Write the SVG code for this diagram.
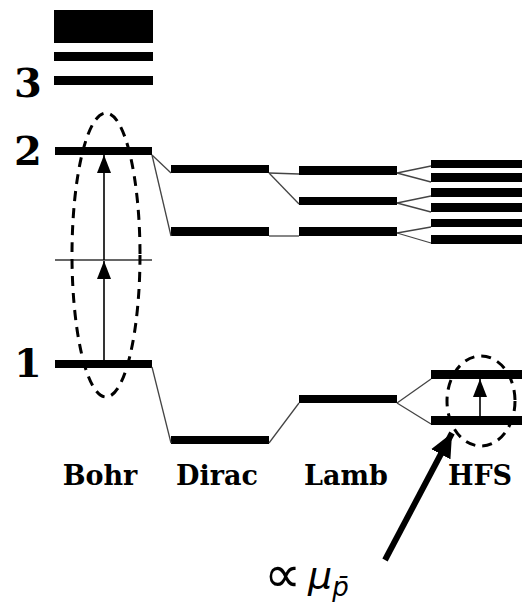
<svg xmlns="http://www.w3.org/2000/svg" width="522" height="605" viewBox="0 0 522 605">
  <style>
    .lvl { fill: #000; }
    .conn { stroke: #444; stroke-width: 1.3; fill: none; }
    .trans { stroke: #000; stroke-width: 1.6; fill: none; }
    .ring { stroke: #000; stroke-width: 3; stroke-dasharray: 10 7; fill: none; }
    .num { font-family: "DejaVu Serif", serif; font-weight: bold; font-size: 40px; fill: #000; }
    .col { font-family: "DejaVu Serif", serif; font-weight: bold; font-size: 27px; fill: #000; text-anchor: middle; }
    .math { font-family: "DejaVu Sans", "Liberation Sans", sans-serif; fill: #000; }
  </style>
  <defs>
    <marker id="head" markerUnits="userSpaceOnUse" markerWidth="18" markerHeight="14" refX="18" refY="7" orient="auto" viewBox="0 0 18 14">
      <path d="M0,0 L18,7 L0,14 Z" fill="#000"/>
    </marker>
    <marker id="bighead" markerUnits="userSpaceOnUse" markerWidth="24" markerHeight="22" refX="22" refY="10" orient="auto" viewBox="0 0 22 20">
      <path d="M0,0 L22,10 L0,20 Z" fill="#000"/>
    </marker>
  </defs>

  <!-- principal quantum number labels -->
  <g id="labels-n">
    <text class="num" x="28" y="97" text-anchor="middle">3</text>
    <text class="num" x="28" y="165" text-anchor="middle">2</text>
    <text class="num" x="28" y="377" text-anchor="middle">1</text>
  </g>

  <!-- Bohr levels -->
  <g id="bohr">
    <rect class="lvl" x="54" y="10" width="99" height="33"/>
    <rect class="lvl" x="54" y="52" width="99" height="9"/>
    <rect class="lvl" x="54" y="76" width="99" height="9"/>
    <rect class="lvl" x="55" y="147" width="97" height="8"/>
    <rect class="lvl" x="55" y="360" width="97" height="8"/>
    <line x1="55" y1="260" x2="152" y2="260" stroke="#333" stroke-width="1.5"/>
  </g>

  <!-- Dirac levels -->
  <g id="dirac">
    <rect class="lvl" x="171" y="165" width="98" height="8"/>
    <rect class="lvl" x="171" y="227" width="98" height="9"/>
    <rect class="lvl" x="171" y="436" width="98" height="8"/>
  </g>

  <!-- Lamb-shifted levels -->
  <g id="lamb">
    <rect class="lvl" x="299" y="166" width="98" height="9"/>
    <rect class="lvl" x="299" y="197" width="98" height="8"/>
    <rect class="lvl" x="299" y="227" width="98" height="9"/>
    <rect class="lvl" x="299" y="395" width="98" height="8"/>
  </g>

  <!-- hyperfine levels -->
  <g id="hfs">
    <rect class="lvl" x="431" y="160" width="98" height="8"/>
    <rect class="lvl" x="431" y="173" width="98" height="9"/>
    <rect class="lvl" x="431" y="188" width="98" height="9"/>
    <rect class="lvl" x="431" y="203" width="98" height="9"/>
    <rect class="lvl" x="431" y="219" width="98" height="8"/>
    <rect class="lvl" x="431" y="235" width="98" height="9"/>
    <rect class="lvl" x="431" y="370" width="98" height="9"/>
    <rect class="lvl" x="431" y="416" width="98" height="9"/>
  </g>

  <!-- connectors between columns -->
  <g id="connectors">
    <polyline class="conn" points="152,155 171,173"/>
    <polyline class="conn" points="152,155 171,236"/>
    <polyline class="conn" points="269,173 299,174"/>
    <polyline class="conn" points="269,173 299,204"/>
    <polyline class="conn" points="269,236 299,236"/>
    <polyline class="conn" points="397,173 431,166"/>
    <polyline class="conn" points="397,173 431,182"/>
    <polyline class="conn" points="397,203 431,196"/>
    <polyline class="conn" points="397,203 431,212"/>
    <polyline class="conn" points="397,233 431,227"/>
    <polyline class="conn" points="397,233 431,243"/>
    <polyline class="conn" points="152,367 171,443"/>
    <polyline class="conn" points="269,443 299,403"/>
    <polyline class="conn" points="397,403 431,379"/>
    <polyline class="conn" points="397,403 431,424"/>
  </g>

  <!-- transitions -->
  <g id="transitions">
    <line class="trans" x1="104" y1="360" x2="104" y2="261" marker-end="url(#head)"/>
    <line class="trans" x1="104" y1="260" x2="104" y2="155" marker-end="url(#head)"/>
    <line class="trans" x1="480" y1="416" x2="480" y2="379" marker-end="url(#head)"/>
    <ellipse class="ring" cx="106" cy="255" rx="34" ry="142"/>
    <ellipse class="ring" cx="481" cy="401" rx="34" ry="45"/>
  </g>

  <!-- column titles -->
  <g id="titles">
    <text class="col" x="100" y="485">Bohr</text>
    <text class="col" x="217" y="485">Dirac</text>
    <text class="col" x="346" y="485">Lamb</text>
    <text class="col" x="480" y="485">HFS</text>
  </g>

  <!-- magnetic moment pointer -->
  <g id="moment">
    <line x1="385" y1="560" x2="452" y2="433" stroke="#000" stroke-width="6" marker-end="url(#bighead)"/>
    <text class="math" x="264" y="592" font-size="52">∝<tspan x="308" y="588" font-style="italic" font-size="38">μ</tspan><tspan font-style="italic" font-size="26" dy="8">p̄</tspan></text>
  </g>
</svg>
